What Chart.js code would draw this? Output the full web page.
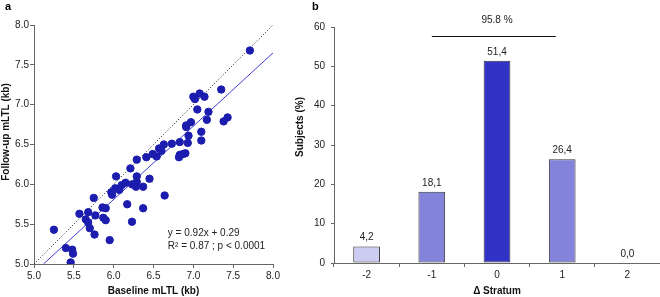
<!DOCTYPE html>
<html>
<head>
<meta charset="utf-8">
<script src="https://cdn.jsdelivr.net/npm/chart.js@4/dist/chart.umd.min.js"></script>
<style>
  html, body { margin: 0; padding: 0; background: #fff; }
  body { width: 660px; height: 297px; position: relative; overflow: hidden; }
  #wa { position: absolute; left: 0; top: 0; width: 290px; height: 297px; }
  #wb { position: absolute; left: 290px; top: 0; width: 370px; height: 297px; }
</style>
</head>
<body>
<div id="wa"><canvas id="ca"></canvas></div>
<div id="wb"><canvas id="cb"></canvas></div>
<script>
// ---- Panel a: scatter data ----
const baselineMLTL = [7.71,7.35,7.00,7.02,7.08,7.14,7.05,7.19,7.17,6.97,6.91,6.91,7.10,6.94,7.43,7.38,6.93,7.10,6.83,6.73,6.63,6.57,6.49,6.54,6.60,6.41,6.29,6.21,6.82,6.83,6.87,6.90,6.29,6.03,6.45,6.15,6.10,6.02,6.07,5.97,5.98,6.23,6.27,6.28,6.29,6.37,6.64,6.17,6.37,5.75,5.57,5.68,5.86,5.90,5.77,5.65,5.68,5.70,5.87,5.90,6.23,5.76,5.95,5.25,5.40,5.48,5.49,5.46];
const followupMLTL = [7.68,7.19,7.10,7.07,7.14,7.10,6.94,6.91,6.81,6.78,6.74,6.72,6.66,6.61,6.84,6.79,6.52,6.55,6.53,6.51,6.50,6.45,6.38,6.35,6.42,6.34,6.31,6.20,6.34,6.37,6.38,6.39,6.10,6.10,6.07,6.02,5.99,5.95,5.93,5.90,5.87,6.00,6.00,5.97,6.03,5.97,5.86,5.75,5.70,5.83,5.63,5.65,5.71,5.70,5.61,5.56,5.52,5.45,5.58,5.55,5.53,5.37,5.30,5.43,5.20,5.18,5.13,5.02];
const fitSlope = 0.92;
const fitIntercept = 0.29;
const fitXStart = 5.12;
const axisMin = 5.0, axisMax = 8.0, axisStep = 0.5;
const fitText = ['y = 0.92x + 0.29', 'R² = 0.87 ; p < 0.0001'];

// ---- Panel b: bar data ----
const strata = ['-2','-1','0','1','2'];
const subjectsPct = [4.2, 18.1, 51.4, 26.4, 0.0];
const barColors = ['#ccccf2', '#8383dc', '#3232c6', '#8383dc', '#ccccf2'];
const bracketFrom = 1, bracketTo = 2.9, bracketValue = 57.7, bracketLabelValue = 61.8;
const bracketLabel = '95.8 %';

const FONT = '"Liberation Sans", Arial, sans-serif';
Chart.defaults.font.family = FONT;
Chart.defaults.font.size = 10;
Chart.defaults.color = '#222';

const axisColor = '#666';

const scatterPts = baselineMLTL.map((x, i) => ({x: x, y: followupMLTL[i]}));
const fitLine = [fitXStart, axisMax].map(x => ({x: x, y: fitSlope * x + fitIntercept}));
const identLine = [axisMin, axisMax].map(v => ({x: v, y: v}));

const panelAExtras = {
  id: 'panelAExtras',
  afterDraw(chart) {
    const ctx = chart.ctx, xs = chart.scales.x, ys = chart.scales.y;
    ctx.save();
    ctx.fillStyle = '#000';
    ctx.font = 'bold 11px ' + FONT;
    ctx.textAlign = 'left'; ctx.textBaseline = 'top';
    ctx.fillText('a', 5, 1);
    // regression text
    ctx.font = '10px ' + FONT;
    ctx.fillStyle = '#222';
    ctx.textBaseline = 'middle';
    ctx.fillText(fitText[0], xs.getPixelForValue(6.68), ys.getPixelForValue(5.385));
    ctx.fillText(fitText[1], xs.getPixelForValue(6.68), ys.getPixelForValue(5.225));
    // y title
    ctx.font = 'bold 10px ' + FONT;
    ctx.fillStyle = '#111';
    ctx.translate(6, 132);
    ctx.rotate(-Math.PI / 2);
    ctx.textAlign = 'center';
    ctx.fillText('Follow-up mLTL (kb)', 0, 0);
    ctx.restore();
  }
};

new Chart(document.getElementById('ca'), {
  type: 'scatter',
  data: {
    datasets: [
      { data: scatterPts, backgroundColor: '#1c1cae', borderColor: '#1c1cae', pointRadius: 3.7, pointHoverRadius: 3.7, order: 0 },
      { type: 'line', data: fitLine, borderColor: '#3d3dd6', borderWidth: 1, pointRadius: 0, fill: false, order: 1 },
      { type: 'line', data: identLine, borderColor: '#111', borderWidth: 1, borderDash: [1, 2], pointRadius: 0, fill: false, order: 2 }
    ]
  },
  options: {
    responsive: true, maintainAspectRatio: false, animation: false,
    layout: { padding: { top: 25, right: 17, left: 0, bottom: 0 } },
    plugins: { legend: { display: false }, tooltip: { enabled: false } },
    scales: {
      x: {
        type: 'linear', min: axisMin, max: axisMax,
        ticks: { stepSize: axisStep, callback: v => v.toFixed(1), padding: 2, maxRotation: 0, color: '#222' },
        grid: { drawOnChartArea: false, drawTicks: true, tickLength: 4, color: axisColor },
        border: { color: axisColor },
        title: { display: true, text: 'Baseline mLTL (kb)', font: { weight: 'bold', size: 10 }, color: '#111', padding: 0 },
        afterFit(s) { s.height = 33; }
      },
      y: {
        type: 'linear', min: axisMin, max: axisMax,
        ticks: { stepSize: axisStep, callback: v => v.toFixed(1), padding: 1, color: '#222' },
        grid: { drawOnChartArea: false, drawTicks: true, tickLength: 4, color: axisColor },
        border: { color: axisColor },
        afterFit(s) { s.width = 34; }
      }
    }
  },
  plugins: [panelAExtras]
});

const panelBExtras = {
  id: 'panelBExtras',
  afterDatasetsDraw(chart) {
    const ctx = chart.ctx, xs = chart.scales.x, ys = chart.scales.y;
    const meta = chart.getDatasetMeta(0);
    ctx.save();
    ctx.font = '10px ' + FONT;
    ctx.fillStyle = '#222';
    ctx.textAlign = 'center'; ctx.textBaseline = 'middle';
    meta.data.forEach((bar, i) => {
      ctx.fillText(subjectsPct[i].toFixed(1).replace('.', ','), bar.x, bar.y - 9);
    });
    // bracket
    const yb = Math.round(ys.getPixelForValue(bracketValue)) + 0.5;
    ctx.strokeStyle = '#111'; ctx.lineWidth = 1;
    ctx.beginPath();
    ctx.moveTo(xs.getPixelForValue(bracketFrom), yb);
    ctx.lineTo(xs.getPixelForValue(bracketTo), yb);
    ctx.stroke();
    ctx.fillText(bracketLabel, xs.getPixelForValue(2), ys.getPixelForValue(bracketLabelValue));
    // panel letter
    ctx.fillStyle = '#000';
    ctx.font = 'bold 11px ' + FONT;
    ctx.textAlign = 'left'; ctx.textBaseline = 'top';
    ctx.fillText('b', 22, 1);
    // y title
    ctx.font = 'bold 10px ' + FONT;
    ctx.fillStyle = '#111';
    ctx.translate(10, 127);
    ctx.rotate(-Math.PI / 2);
    ctx.textAlign = 'center'; ctx.textBaseline = 'middle';
    ctx.fillText('Subjects (%)', 0, 0);
    ctx.restore();
  }
};

new Chart(document.getElementById('cb'), {
  type: 'bar',
  data: {
    labels: strata,
    datasets: [{
      data: subjectsPct,
      backgroundColor: barColors,
      borderColor: '#333',
      borderWidth: 1,
      borderSkipped: false,
      categoryPercentage: 1.0,
      barPercentage: 0.41
    }]
  },
  options: {
    responsive: true, maintainAspectRatio: false, animation: false,
    layout: { padding: { top: 27, right: 0, left: 0, bottom: 0 } },
    plugins: { legend: { display: false }, tooltip: { enabled: false } },
    scales: {
      x: {
        ticks: { padding: 2, color: '#222', maxRotation: 0 },
        grid: { offset: true, drawOnChartArea: false, drawTicks: true, tickLength: 4, color: axisColor },
        border: { color: axisColor },
        title: { display: true, text: 'Δ Stratum', font: { weight: 'bold', size: 10 }, color: '#111', padding: 0 },
        afterFit(s) { s.height = 34; }
      },
      y: {
        min: 0, max: 60,
        ticks: { stepSize: 10, padding: 6, color: '#222' },
        grid: { drawOnChartArea: false, drawTicks: true, tickLength: 3, color: axisColor },
        border: { color: axisColor },
        afterFit(s) { s.width = 44; }
      }
    }
  },
  plugins: [panelBExtras]
});
</script>
</body>
</html>
